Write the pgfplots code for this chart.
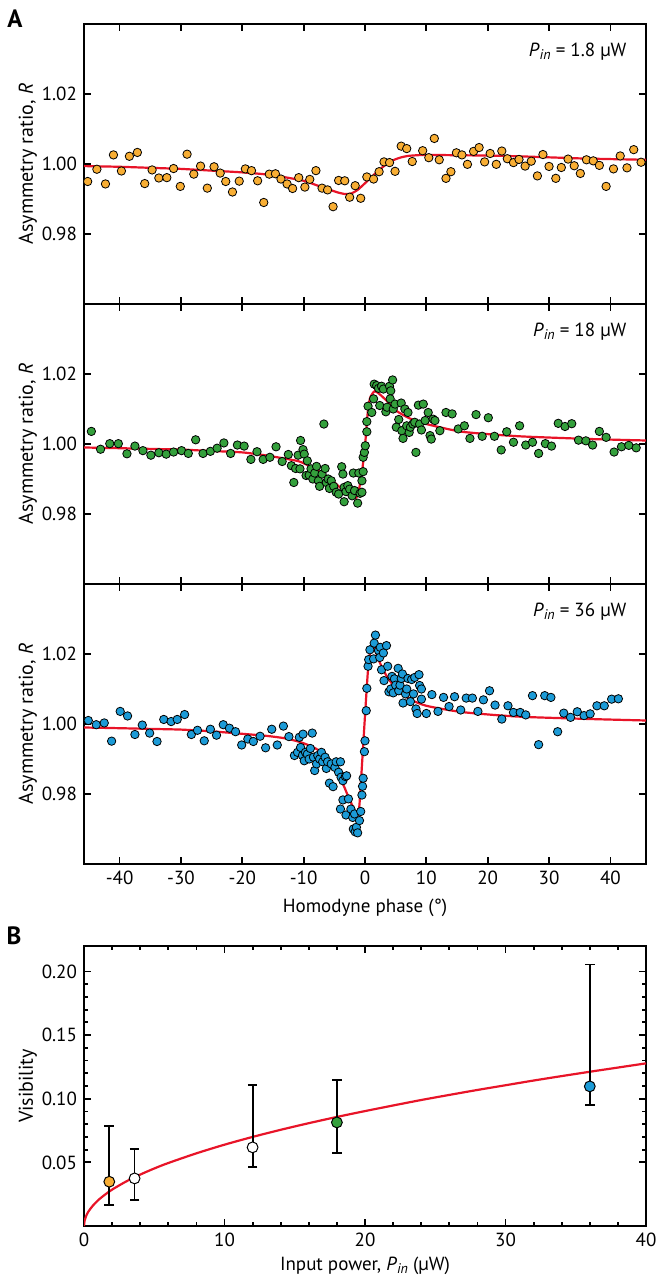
\documentclass[border=0pt]{standalone}
\usepackage{fontspec}
\setmainfont{PT Sans}
\usepackage{pgfplots}
\pgfplotsset{compat=1.18}
\definecolor{myorange}{RGB}{248,174,52}
\definecolor{mygreen}{RGB}{52,160,60}
\definecolor{myblue}{RGB}{28,155,215}
\definecolor{myred}{RGB}{232,20,40}
\newcommand{\fs}{\fontsize{9.5}{11}\selectfont}
\newcommand{\Pin}{\textit{P}\raisebox{-0.35ex}{\fontsize{7}{8}\selectfont\textit{in}}}
\pgfplotsset{
  common/.style={
    scale only axis, width=281pt, height=140pt,
    /pgf/number format/assume math mode=true,
    tick align=inside, major tick length=3.5pt, minor tick length=2pt,
    axis line style={line width=1pt},
    tick style={black, line width=0.9pt},
    tick label style={font=\fs},
    label style={font=\fs},
    every axis y label/.style={at={(axis description cs:-0.0712,0.5)}, anchor=south, rotate=90},
  },
  panelA/.style={common,
    xmin=-45.8, xmax=45.8, ymin=0.96, ymax=1.04,
    xtick={-40,-30,...,40}, ytick={0.98,1.00,1.02},
    scaled y ticks=false,
    yticklabel style={/pgf/number format/.cd, fixed, fixed zerofill, precision=2},
    ylabel={Asymmetry ratio, \textit{R}},
  },
  pts/.style={only marks, mark=*, mark size=2.1pt, mark options={fill=#1, draw=black, line width=0.4pt}},
  fit/.style={myred, line width=1.1pt, smooth, tension=0.4},
}
\begin{document}
\begin{tikzpicture}
\path[use as bounding box] (0,0) rectangle (329pt,-639pt);
\node[font=\bfseries\fontsize{12.5}{14}\selectfont] at (7.5pt,-9.5pt) {A};
\node[font=\bfseries\fontsize{12.5}{14}\selectfont] at (7pt,-468pt) {B};
% ---------- top panel ----------
\begin{axis}[panelA, at={(42pt,-12pt)}, anchor=north west, xticklabels={}]
\addplot[pts=myorange] table {
-45.2 0.9950
-43.7 0.9985
-42.3 0.9943
-41.0 1.0026
-39.7 0.9980
-38.4 1.0022
-37.1 1.0033
-35.9 0.9944
-34.7 0.9983
-33.6 0.9960
-32.3 0.9961
-31.2 0.9987
-30.1 0.9936
-29.0 1.0028
-27.9 0.9971
-26.8 0.9994
-25.7 0.9931
-24.6 0.9992
-23.6 0.9974
-22.7 0.9950
-21.6 0.9920
-20.5 0.9951
-19.5 0.9986
-18.5 0.9981
-17.5 0.9952
-16.5 0.9890
-15.6 0.9971
-14.6 0.9972
-13.7 0.9957
-12.7 0.9943
-11.8 0.9930
-10.8 0.9961
-9.8 0.9934
-9.0 0.9956
-8.0 0.9981
-7.0 0.9931
-6.1 0.9926
-5.2 0.9878
-4.3 0.9953
-3.3 0.9952
-2.5 0.9905
-1.6 0.9938
-0.7 0.9902
0.3 0.9963
1.4 0.9957
2.3 0.9978
3.1 1.0006
4.0 1.0004
4.9 0.9979
5.9 1.0051
6.8 1.0044
7.7 1.0007
9.4 1.0038
10.4 1.0018
11.3 1.0073
12.1 1.0012
13.2 0.9959
14.0 0.9978
14.9 1.0032
15.8 1.0026
16.7 0.9999
17.7 1.0036
18.6 1.0047
19.5 1.0006
20.4 1.0030
21.4 0.9999
22.3 1.0037
23.2 1.0015
24.2 1.0004
25.1 1.0013
26.1 0.9994
27.1 1.0008
28.1 0.9966
29.0 1.0027
30.0 0.9993
31.1 0.9959
32.0 0.9990
33.1 1.0014
34.1 0.9995
35.1 0.9973
36.1 1.0012
37.2 1.0009
38.2 0.9996
39.3 0.9936
40.5 0.9986
41.6 1.0023
42.7 0.9989
43.8 1.0041
45.0 1.0005
};
\addplot[fit] table {
-45.8 0.9994
-40 0.9992
-35 0.9989
-30 0.9986
-25 0.9981
-20 0.9976
-16 0.9970
-13 0.9962
-10 0.9952
-8 0.9940
-6 0.9928
-4.5 0.9919
-3.2 0.9914
-2.2 0.9916
-1.2 0.9926
0 0.9945
1.2 0.9965
2.5 0.9986
3.5 0.9999
4.5 1.0010
5.7 1.0018
7 1.0023
8.5 1.0025
10 1.0026
15 1.0025
20 1.0024
25 1.0022
30 1.0019
35 1.0016
40 1.0014
45.8 1.0012
};
\node[anchor=north east, inner sep=0pt, font=\fs] at (rel axis cs:0.966,0.935) {\Pin{} = 1.8 µW};
\end{axis}
% ---------- middle panel ----------
\begin{axis}[panelA, at={(42pt,-152pt)}, anchor=north west, xticklabels={}]
\addplot[pts=mygreen] table {
-44.6 1.0036
-43.1 0.9985
-41.6 1.0001
-40.2 1.0001
-38.8 0.9972
-37.5 0.9994
-36.2 0.9981
-34.9 0.9968
-33.6 0.9975
-32.4 0.9971
-31.2 0.9977
-29.9 0.9981
-28.8 0.9973
-27.6 1.0012
-26.4 0.9973
-25.2 0.9979
-24.1 0.9988
-23.0 1.0003
-21.9 0.9973
-20.8 0.9997
-19.7 0.9994
-18.6 0.9956
-17.6 0.9978
-16.6 0.9956
-15.5 0.9962
-14.5 0.9992
-13.5 0.9950
-12.5 0.9970
-12.0 0.9938
-11.6 0.9890
-11.3 0.9930
-10.9 0.9968
-10.5 1.0010
-10.6 0.9929
-10.1 0.9984
-9.9 0.9971
-9.4 0.9952
-9.6 0.9910
-9.1 0.9911
-8.8 0.9929
-8.5 0.9900
-8.2 0.9917
-7.9 0.9936
-7.6 0.9895
-7.4 0.9879
-7.0 0.9914
-6.7 1.0057
-6.5 0.9930
-6.3 0.9890
-6.0 0.9900
-5.8 0.9873
-5.5 0.9895
-5.1 0.9879
-4.7 0.9862
-4.3 0.9857
-3.8 0.9935
-3.6 0.9914
-3.4 0.9876
-3.1 0.9864
-3.4 0.9835
-2.8 0.9881
-2.5 0.9871
-2.1 0.9852
-1.9 0.9917
-1.7 0.9867
-1.2 0.9831
-1.0 0.9917
-0.8 0.9859
-0.5 0.9895
-0.5 0.9862
-0.3 0.9921
-0.3 0.9962
-0.1 0.9976
0.05 0.9995
0.3 1.0035
0.3 1.0064
0.5 1.0108
1.1 1.0090
1.4 1.0129
1.5 1.0171
1.9 1.0167
2.2 1.0159
2.4 1.0110
2.7 1.0165
3.0 1.0157
3.4 1.0092
3.6 1.0105
4.0 1.0165
4.2 1.0152
4.5 1.0183
4.1 1.0129
4.6 1.0100
4.9 1.0114
5.1 1.0048
5.5 1.0070
5.9 1.0117
6.0 1.0038
6.2 1.0016
6.5 1.0100
6.8 1.0052
7.0 1.0090
7.2 1.0033
7.4 1.0048
7.8 1.0057
8.1 1.0062
8.3 0.9976
8.7 1.0111
8.9 1.0057
9.2 1.0040
9.5 1.0114
9.8 1.0067
10.3 1.0090
10.6 1.0024
10.8 1.0014
11.1 1.0071
11.4 1.0067
12.2 1.0038
13.2 1.0090
14.2 1.0086
15.2 1.0043
16.2 1.0052
17.1 1.0016
18.1 1.0084
19.1 1.0022
20.1 1.0075
21.1 1.0022
22.2 0.9983
23.1 1.0035
24.2 1.0005
25.2 1.0052
26.2 0.9997
27.3 1.0005
28.3 0.9973
29.4 1.0001
30.4 0.9994
31.5 1.0059
32.6 1.0050
33.7 1.0058
34.8 1.0011
36.0 1.0009
37.1 0.9997
38.2 1.0036
39.3 1.0019
40.6 0.9977
41.8 0.9992
43.0 0.9996
44.2 0.9989
};
\addplot[fit] table {
-45.8 0.9990
-40 0.9988
-35 0.9986
-30 0.9984
-25 0.9980
-20 0.9976
-16 0.9967
-13 0.9958
-10.7 0.9950
-8.6 0.9933
-6.4 0.9910
-4.2 0.9878
-2.6 0.9852
-1.85 0.9845
-1.2 0.9852
-0.5 0.9919
0.05 1.0005
0.5 1.0100
0.9 1.0135
1.6 1.0151
2.4 1.0142
3.5 1.0124
5.1 1.0095
7.3 1.0073
10 1.0057
15.4 1.0036
20.9 1.0027
26.3 1.0021
37.1 1.0014
45.8 1.0010
};
\node[anchor=north east, inner sep=0pt, font=\fs] at (rel axis cs:0.966,0.935) {\Pin{} = 18 µW};
\end{axis}
% ---------- bottom panel ----------
\begin{axis}[panelA, at={(42pt,-292pt)}, anchor=north west, xlabel={Homodyne phase (°)}]
\addplot[pts=myblue] table {
-45.1 1.0010
-43.8 0.9998
-42.5 1.0003
-41.3 0.9951
-39.9 1.0036
-38.7 1.0023
-37.5 0.9970
-36.3 0.9997
-35.1 0.9974
-33.9 0.9950
-32.8 1.0013
-31.6 1.0007
-30.6 1.0013
-29.4 1.0027
-28.3 0.9970
-27.3 0.9982
-26.2 0.9952
-25.2 0.9985
-24.2 0.9968
-23.1 0.9998
-22.1 0.9988
-21.1 0.9978
-20.1 0.9940
-19.1 0.9957
-18.2 0.9950
-17.1 0.9965
-16.2 0.9932
-15.2 0.9985
-14.3 0.9940
-13.3 0.9994
-12.4 0.9964
-11.5 0.9910
-11.0 0.9919
-10.7 0.9962
-10.5 0.9933
-10.2 0.9910
-10.1 0.9971
-9.9 0.9895
-9.7 0.9919
-9.4 0.9914
-9.1 0.9900
-8.9 0.9930
-8.6 0.9974
-8.4 0.9905
-8.2 0.9867
-7.9 0.9886
-7.7 0.9910
-7.4 0.9900
-7.1 0.9919
-6.9 0.9892
-6.5 0.9905
-6.3 0.9873
-6.1 0.9892
-5.8 0.9831
-5.5 0.9886
-5.2 0.9821
-4.9 0.9876
-4.7 0.9892
-4.3 0.9862
-4.0 0.9892
-3.9 0.9848
-3.6 0.9838
-3.2 0.9850
-3.0 0.9852
-3.6 0.9783
-4.0 0.9757
-3.1 0.9740
-2.7 0.9786
-2.3 0.9757
-2.0 0.9733
-1.7 0.9743
-1.9 0.9700
-1.6 0.9692
-1.4 0.9705
-1.2 0.9689
-0.9 0.9724
-0.7 0.9750
-0.5 0.9797
-0.4 0.9822
-0.3 0.9845
-0.1 0.9921
0.0 0.9952
0.2 1.0038
0.3 1.0102
0.5 1.0165
0.6 1.0184
0.8 1.0212
1.4 1.0186
1.5 1.0231
1.7 1.0254
2.2 1.0210
2.4 1.0190
2.5 1.0219
2.7 1.0155
3.0 1.0203
3.1 1.0124
3.5 1.0224
3.7 1.0165
3.9 1.0092
4.2 1.0100
4.4 1.0136
4.6 1.0089
4.8 1.0129
5.0 1.0111
5.4 1.0159
5.5 1.0095
5.7 1.0111
5.9 1.0130
6.1 1.0143
6.2 1.0060
6.6 1.0086
6.8 1.0100
7.0 1.0130
7.4 1.0064
7.6 1.0127
7.9 1.0086
8.1 1.0133
8.3 1.0043
8.5 1.0030
8.8 1.0141
8.9 1.0110
9.2 1.0100
9.2 1.0071
10.0 1.0030
10.9 1.0084
11.9 1.0036
12.8 1.0076
13.7 1.0050
14.6 1.0078
15.6 1.0040
16.5 1.0074
17.5 1.0074
18.4 1.0036
19.3 1.0069
20.3 1.0095
21.2 1.0054
22.3 1.0014
23.3 1.0052
24.2 1.0033
25.3 1.0033
26.2 1.0026
27.3 1.0081
28.3 0.9941
29.3 1.0081
30.3 1.0076
31.4 0.9978
32.4 1.0031
33.5 1.0019
34.6 1.0035
35.7 1.0024
36.7 1.0029
37.8 1.0052
39.0 1.0052
40.2 1.0071
41.3 1.0072
};
\addplot[fit] table {
-45.8 0.9990
-40 0.9988
-35 0.9986
-30 0.9984
-25 0.9979
-20 0.9972
-16 0.9966
-13 0.9959
-10.5 0.9948
-8.6 0.9935
-7.5 0.9924
-6.3 0.9905
-5.3 0.9881
-4.5 0.9858
-3.7 0.9833
-2.9 0.9800
-2.3 0.9776
-1.6 0.9750
-1.15 0.9741
-0.9 0.9770
-0.5 0.9881
0.05 1.0038
0.5 1.0157
0.9 1.0215
1.1 1.0226
1.6 1.0214
2.4 1.0176
3.5 1.0138
5.1 1.0100
7.3 1.0071
10 1.0052
15.4 1.0035
20.9 1.0026
26.3 1.0020
37.1 1.0014
45.8 1.0010
};
\node[anchor=north east, inner sep=0pt, font=\fs] at (rel axis cs:0.966,0.935) {\Pin{} = 36 µW};
\end{axis}
% ---------- panel B ----------
\begin{axis}[common, at={(42pt,-473pt)}, anchor=north west,
  xmin=0, xmax=40, ymin=0, ymax=0.22,
  xtick={0,10,...,40}, ytick={0.05,0.10,0.15,0.20},
  minor x tick num=4, minor y tick num=4,
  scaled y ticks=false,
  yticklabel style={/pgf/number format/.cd, fixed, fixed zerofill, precision=2},
  xlabel={Input power, \Pin{} (µW)}, ylabel={Visibility},
  xlabel style={yshift=2pt},
  bstyle/.style={only marks, mark=*, mark size=2.7pt, mark options={fill=#1, draw=black, line width=0.5pt},
    error bars/.cd, y dir=both, y explicit,
    error bar style={black, line width=0.9pt},
    error mark options={rotate=90, black, mark size=2.4pt, line width=0.9pt}},
]
\addplot[myred, line width=1.1pt, smooth] table {
0 0
0.05 0.0045
0.15 0.0078
0.3 0.0111
0.6 0.0156
1 0.0202
1.5 0.0247
2 0.0286
3 0.0350
4 0.0404
5 0.0452
6 0.0495
8 0.0571
10 0.0639
12 0.0700
14 0.0756
16 0.0808
18 0.0857
20 0.0903
22 0.0947
24 0.0990
26 0.1030
28 0.1069
30 0.1106
32 0.1143
34 0.1178
36 0.1212
38 0.1245
40 0.1278
};
\addplot[bstyle=myorange] coordinates {(1.8,0.0348) += (0,0.0440) -= (0,0.0183)};
\addplot[bstyle=white] coordinates {(3.6,0.0374) += (0,0.0231) -= (0,0.0170)};
\addplot[bstyle=white] coordinates {(12,0.0618) += (0,0.0492) -= (0,0.0157)};
\addplot[bstyle=mygreen] coordinates {(18,0.0814) += (0,0.0333) -= (0,0.0243)};
\addplot[bstyle=myblue] coordinates {(36,0.1097) += (0,0.0958) -= (0,0.0144)};
\end{axis}
\end{tikzpicture}
\end{document}
